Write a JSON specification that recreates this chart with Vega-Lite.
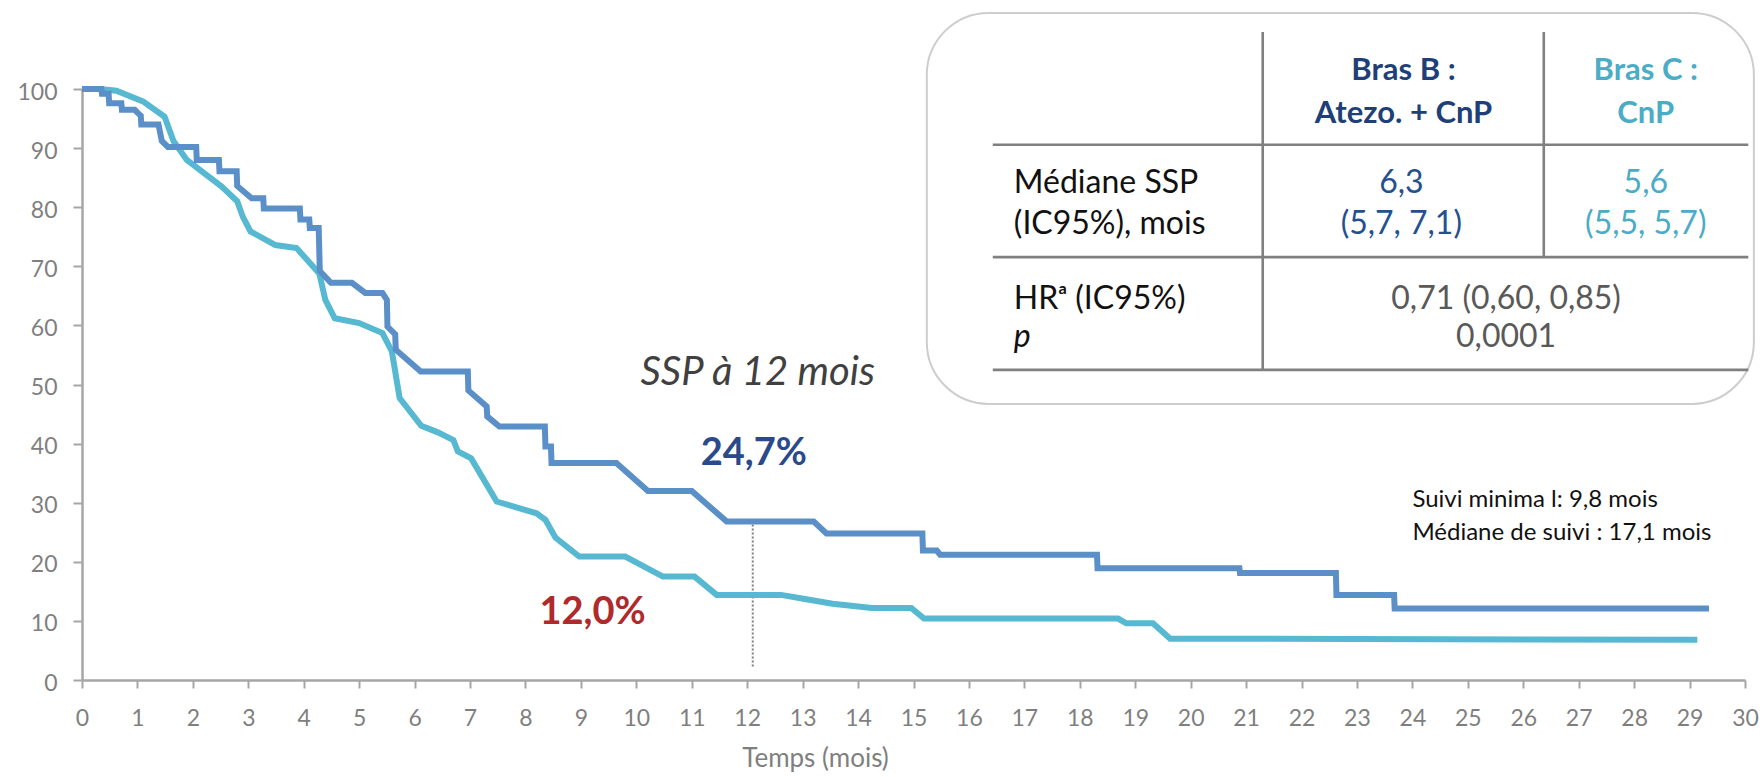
{
  "$schema": "https://vega.github.io/schema/vega-lite/v6.json",
  "autosize": {"type": "none"},
  "width": 1663,
  "height": 591,
  "padding": {"left": 82, "top": 89, "right": 18, "bottom": 97},
  "background": "white",
  "config": {
    "view": {"stroke": null},
    "font": "Lato",
    "text": {"font": "Lato"}
  },
  "encoding": {
    "x": {
      "field": "t",
      "type": "quantitative",
      "scale": {"domain": [0, 30], "nice": false, "zero": false},
      "axis": {
        "title": "Temps (mois)",
        "titleFont": "Lato",
        "titleFontSize": 26,
        "titleFontWeight": "normal",
        "titleColor": "#7F7F7F",
        "titleX": 733,
        "titleY": 86,
        "titleAlign": "center",
        "titleBaseline": "alphabetic",
        "values": [0,1,2,3,4,5,6,7,8,9,10,11,12,13,14,15,16,17,18,19,20,21,22,23,24,25,26,27,28,29,30],
        "labelFont": "Lato",
        "labelFontSize": 23,
        "labelColor": "#7F7F7F",
        "labelPadding": 19,
        "labelFlush": false,
        "labelOverlap": false,
        "domainColor": "#A6A6A6",
        "domainWidth": 2.5,
        "tickColor": "#A6A6A6",
        "tickWidth": 2,
        "tickSize": 8,
        "grid": false
      }
    },
    "y": {
      "field": "s",
      "type": "quantitative",
      "scale": {"domain": [0, 100], "nice": false, "zero": false},
      "axis": {
        "title": null,
        "values": [0,10,20,30,40,50,60,70,80,90,100],
        "labelFont": "Lato",
        "labelFontSize": 23,
        "labelColor": "#7F7F7F",
        "labelPadding": 16,
        "labelOffset": 3,
        "labelFlush": false,
        "domainColor": "#A6A6A6",
        "domainWidth": 2.5,
        "tickColor": "#A6A6A6",
        "tickWidth": 2,
        "tickSize": 9,
        "grid": false
      }
    }
  },
  "layer": [
    {
      "description": "Table frame",
      "data": {"values": [{"t": 15.24, "t2": 30.16, "s": 46.72, "s2": 112.87}]},
      "mark": {"type": "rect", "fill": "white", "stroke": "#CDCDCD", "strokeWidth": 2, "cornerRadius": 62},
      "encoding": {"x2": {"field": "t2"}, "y2": {"field": "s2"}}
    },
    {
      "description": "Table grid lines",
      "data": {"values": [
        {"t": 16.43, "t2": 30.06, "s": 90.57, "s2": 90.57},
        {"t": 16.43, "t2": 30.06, "s": 71.56, "s2": 71.56},
        {"t": 16.43, "t2": 30.06, "s": 52.48, "s2": 52.48},
        {"t": 21.30, "t2": 21.30, "s": 52.48, "s2": 109.65},
        {"t": 26.37, "t2": 26.37, "s": 71.56, "s2": 109.65}
      ]},
      "mark": {"type": "rule", "color": "#808080", "strokeWidth": 2.6},
      "encoding": {"x2": {"field": "t2"}, "y2": {"field": "s2"}}
    },
    {
      "description": "Dotted marker at 12 months",
      "data": {"values": [{"t": 12.1, "s": 2.3, "s2": 26.4}]},
      "mark": {"type": "rule", "color": "#7F7F7F", "strokeWidth": 2, "strokeDash": [2, 2]},
      "encoding": {"y2": {"field": "s2"}}
    },
    {
      "description": "Kaplan-Meier PFS curves",
      "data": {"values": [
        {"bras": "C", "t": 0, "s": 100},
        {"bras": "C", "t": 0.32, "s": 100},
        {"bras": "C", "t": 0.62, "s": 99.7},
        {"bras": "C", "t": 1.10, "s": 97.9},
        {"bras": "C", "t": 1.49, "s": 95.3},
        {"bras": "C", "t": 1.65, "s": 91.2},
        {"bras": "C", "t": 1.89, "s": 88.0},
        {"bras": "C", "t": 2.52, "s": 83.5},
        {"bras": "C", "t": 2.80, "s": 81.0},
        {"bras": "C", "t": 2.90, "s": 78.4},
        {"bras": "C", "t": 3.04, "s": 75.9},
        {"bras": "C", "t": 3.49, "s": 73.6},
        {"bras": "C", "t": 3.87, "s": 73.1},
        {"bras": "C", "t": 4.28, "s": 68.8},
        {"bras": "C", "t": 4.39, "s": 64.3},
        {"bras": "C", "t": 4.56, "s": 61.2},
        {"bras": "C", "t": 5.00, "s": 60.4},
        {"bras": "C", "t": 5.42, "s": 58.7},
        {"bras": "C", "t": 5.59, "s": 55.6},
        {"bras": "C", "t": 5.73, "s": 47.7},
        {"bras": "C", "t": 6.12, "s": 43.0},
        {"bras": "C", "t": 6.42, "s": 41.9},
        {"bras": "C", "t": 6.70, "s": 40.6},
        {"bras": "C", "t": 6.78, "s": 38.7},
        {"bras": "C", "t": 7.02, "s": 37.5},
        {"bras": "C", "t": 7.48, "s": 30.2},
        {"bras": "C", "t": 8.20, "s": 28.2},
        {"bras": "C", "t": 8.36, "s": 27.1},
        {"bras": "C", "t": 8.54, "s": 24.1},
        {"bras": "C", "t": 8.97, "s": 20.9},
        {"bras": "C", "t": 9.80, "s": 20.9},
        {"bras": "C", "t": 10.48, "s": 17.5},
        {"bras": "C", "t": 11.05, "s": 17.5},
        {"bras": "C", "t": 11.45, "s": 14.4},
        {"bras": "C", "t": 12.61, "s": 14.4},
        {"bras": "C", "t": 13.04, "s": 13.7},
        {"bras": "C", "t": 13.54, "s": 12.9},
        {"bras": "C", "t": 14.25, "s": 12.2},
        {"bras": "C", "t": 14.96, "s": 12.2},
        {"bras": "C", "t": 15.19, "s": 10.4},
        {"bras": "C", "t": 18.69, "s": 10.4},
        {"bras": "C", "t": 18.84, "s": 9.6},
        {"bras": "C", "t": 19.32, "s": 9.6},
        {"bras": "C", "t": 19.63, "s": 7.0},
        {"bras": "C", "t": 29.14, "s": 6.8},
        {"bras": "B", "t": 0, "s": 100},
        {"bras": "B", "t": 0.35, "s": 100},
        {"bras": "B", "t": 0.36, "s": 99.2},
        {"bras": "B", "t": 0.48, "s": 99.2},
        {"bras": "B", "t": 0.49, "s": 97.6},
        {"bras": "B", "t": 0.71, "s": 97.6},
        {"bras": "B", "t": 0.72, "s": 96.5},
        {"bras": "B", "t": 0.95, "s": 96.5},
        {"bras": "B", "t": 1.00, "s": 96.0},
        {"bras": "B", "t": 1.06, "s": 95.5},
        {"bras": "B", "t": 1.07, "s": 94.0},
        {"bras": "B", "t": 1.38, "s": 94.0},
        {"bras": "B", "t": 1.44, "s": 91.2},
        {"bras": "B", "t": 1.55, "s": 90.2},
        {"bras": "B", "t": 2.06, "s": 90.2},
        {"bras": "B", "t": 2.07, "s": 88.0},
        {"bras": "B", "t": 2.47, "s": 88.0},
        {"bras": "B", "t": 2.48, "s": 86.1},
        {"bras": "B", "t": 2.79, "s": 86.1},
        {"bras": "B", "t": 2.80, "s": 83.6},
        {"bras": "B", "t": 3.06, "s": 81.5},
        {"bras": "B", "t": 3.27, "s": 81.5},
        {"bras": "B", "t": 3.28, "s": 79.8},
        {"bras": "B", "t": 3.93, "s": 79.8},
        {"bras": "B", "t": 3.94, "s": 77.9},
        {"bras": "B", "t": 4.10, "s": 77.9},
        {"bras": "B", "t": 4.11, "s": 76.5},
        {"bras": "B", "t": 4.27, "s": 76.5},
        {"bras": "B", "t": 4.29, "s": 69.2},
        {"bras": "B", "t": 4.49, "s": 67.2},
        {"bras": "B", "t": 4.87, "s": 67.2},
        {"bras": "B", "t": 5.11, "s": 65.5},
        {"bras": "B", "t": 5.42, "s": 65.5},
        {"bras": "B", "t": 5.50, "s": 64.3},
        {"bras": "B", "t": 5.51, "s": 59.8},
        {"bras": "B", "t": 5.65, "s": 58.5},
        {"bras": "B", "t": 5.66, "s": 55.9},
        {"bras": "B", "t": 6.11, "s": 52.2},
        {"bras": "B", "t": 6.96, "s": 52.2},
        {"bras": "B", "t": 6.97, "s": 49.0},
        {"bras": "B", "t": 7.30, "s": 46.3},
        {"bras": "B", "t": 7.31, "s": 44.6},
        {"bras": "B", "t": 7.53, "s": 42.9},
        {"bras": "B", "t": 8.35, "s": 42.9},
        {"bras": "B", "t": 8.36, "s": 39.5},
        {"bras": "B", "t": 8.46, "s": 39.5},
        {"bras": "B", "t": 8.47, "s": 36.7},
        {"bras": "B", "t": 9.64, "s": 36.7},
        {"bras": "B", "t": 10.21, "s": 32.0},
        {"bras": "B", "t": 11.00, "s": 32.0},
        {"bras": "B", "t": 11.63, "s": 26.8},
        {"bras": "B", "t": 13.20, "s": 26.8},
        {"bras": "B", "t": 13.43, "s": 24.8},
        {"bras": "B", "t": 15.16, "s": 24.8},
        {"bras": "B", "t": 15.17, "s": 21.9},
        {"bras": "B", "t": 15.42, "s": 21.9},
        {"bras": "B", "t": 15.48, "s": 21.2},
        {"bras": "B", "t": 18.31, "s": 21.2},
        {"bras": "B", "t": 18.32, "s": 18.9},
        {"bras": "B", "t": 20.88, "s": 18.9},
        {"bras": "B", "t": 20.89, "s": 18.1},
        {"bras": "B", "t": 22.62, "s": 18.1},
        {"bras": "B", "t": 22.63, "s": 14.4},
        {"bras": "B", "t": 23.67, "s": 14.4},
        {"bras": "B", "t": 23.68, "s": 12.1},
        {"bras": "B", "t": 29.35, "s": 12.1}
      ]},
      "mark": {"type": "line", "strokeWidth": 6, "strokeJoin": "miter", "strokeCap": "butt"},
      "encoding": {
        "color": {
          "field": "bras",
          "type": "nominal",
          "scale": {"domain": ["B", "C"], "range": ["#5B8FC7", "#56B9D1"]},
          "legend": null
        }
      }
    },
    {
      "description": "Column headers, arm B",
      "data": {"values": [
        {"t": 23.84, "s": 101.6, "txt": "Bras B :"},
        {"t": 23.84, "s": 94.25, "txt": "Atezo. + CnP"}
      ]},
      "mark": {"type": "text", "font": "Lato", "fontSize": 31, "fontWeight": "bold", "color": "#1F3F78", "align": "center", "baseline": "alphabetic"},
      "encoding": {"text": {"field": "txt"}}
    },
    {
      "description": "Column headers, arm C",
      "data": {"values": [
        {"t": 28.21, "s": 101.6, "txt": "Bras C :"},
        {"t": 28.21, "s": 94.25, "txt": "CnP"}
      ]},
      "mark": {"type": "text", "font": "Lato", "fontSize": 31, "fontWeight": "bold", "color": "#4BACC6", "align": "center", "baseline": "alphabetic"},
      "encoding": {"text": {"field": "txt"}}
    },
    {
      "description": "Row labels",
      "data": {"values": [
        {"t": 16.81, "s": 82.4, "txt": "Médiane SSP"},
        {"t": 16.81, "s": 75.4, "txt": "(IC95%), mois"},
        {"t": 16.81, "s": 62.8, "txt": "HRᵃ (IC95%)"}
      ]},
      "mark": {"type": "text", "font": "Lato", "fontSize": 32, "color": "#111111", "align": "left", "baseline": "alphabetic"},
      "encoding": {"text": {"field": "txt"}}
    },
    {
      "description": "p-value row label",
      "data": {"values": [{"t": 16.81, "s": 56.4, "txt": "p"}]},
      "mark": {"type": "text", "font": "Lato", "fontSize": 32, "fontStyle": "italic", "color": "#111111", "align": "left", "baseline": "alphabetic"},
      "encoding": {"text": {"field": "txt"}}
    },
    {
      "description": "Median PFS, arm B",
      "data": {"values": [
        {"t": 23.8, "s": 82.4, "txt": "6,3"},
        {"t": 23.8, "s": 75.4, "txt": "(5,7, 7,1)"}
      ]},
      "mark": {"type": "text", "font": "Lato", "fontSize": 32, "color": "#24508F", "align": "center", "baseline": "alphabetic"},
      "encoding": {"text": {"field": "txt"}}
    },
    {
      "description": "Median PFS, arm C",
      "data": {"values": [
        {"t": 28.21, "s": 82.4, "txt": "5,6"},
        {"t": 28.21, "s": 75.4, "txt": "(5,5, 5,7)"}
      ]},
      "mark": {"type": "text", "font": "Lato", "fontSize": 32, "color": "#4BACC6", "align": "center", "baseline": "alphabetic"},
      "encoding": {"text": {"field": "txt"}}
    },
    {
      "description": "Hazard ratio and p-value",
      "data": {"values": [
        {"t": 25.69, "s": 62.8, "txt": "0,71 (0,60, 0,85)"},
        {"t": 25.69, "s": 56.4, "txt": "0,0001"}
      ]},
      "mark": {"type": "text", "font": "Lato", "fontSize": 32, "color": "#595959", "align": "center", "baseline": "alphabetic"},
      "encoding": {"text": {"field": "txt"}}
    },
    {
      "description": "12-month landmark caption",
      "data": {"values": [{"t": 12.19, "s": 49.9, "txt": "SSP à 12 mois"}]},
      "mark": {"type": "text", "font": "Lato", "fontSize": 40, "fontStyle": "italic", "color": "#404040", "align": "center", "baseline": "alphabetic"},
      "encoding": {"text": {"field": "txt"}}
    },
    {
      "description": "12-month PFS, arm B",
      "data": {"values": [{"t": 12.12, "s": 36.4, "txt": "24,7%"}]},
      "mark": {"type": "text", "font": "Lato", "fontSize": 38, "fontWeight": "bold", "color": "#2B4A8B", "align": "center", "baseline": "alphabetic"},
      "encoding": {"text": {"field": "txt"}}
    },
    {
      "description": "12-month PFS, arm C",
      "data": {"values": [{"t": 9.21, "s": 9.5, "txt": "12,0%"}]},
      "mark": {"type": "text", "font": "Lato", "fontSize": 38, "fontWeight": "bold", "color": "#B0292B", "align": "center", "baseline": "alphabetic"},
      "encoding": {"text": {"field": "txt"}}
    },
    {
      "description": "Follow-up note",
      "data": {"values": [
        {"t": 24.0, "s": 29.2, "txt": "Suivi minima l: 9,8 mois"},
        {"t": 24.0, "s": 23.7, "txt": "Médiane de suivi : 17,1 mois"}
      ]},
      "mark": {"type": "text", "font": "Lato", "fontSize": 24, "color": "#111111", "align": "left", "baseline": "alphabetic"},
      "encoding": {"text": {"field": "txt"}}
    }
  ]
}
